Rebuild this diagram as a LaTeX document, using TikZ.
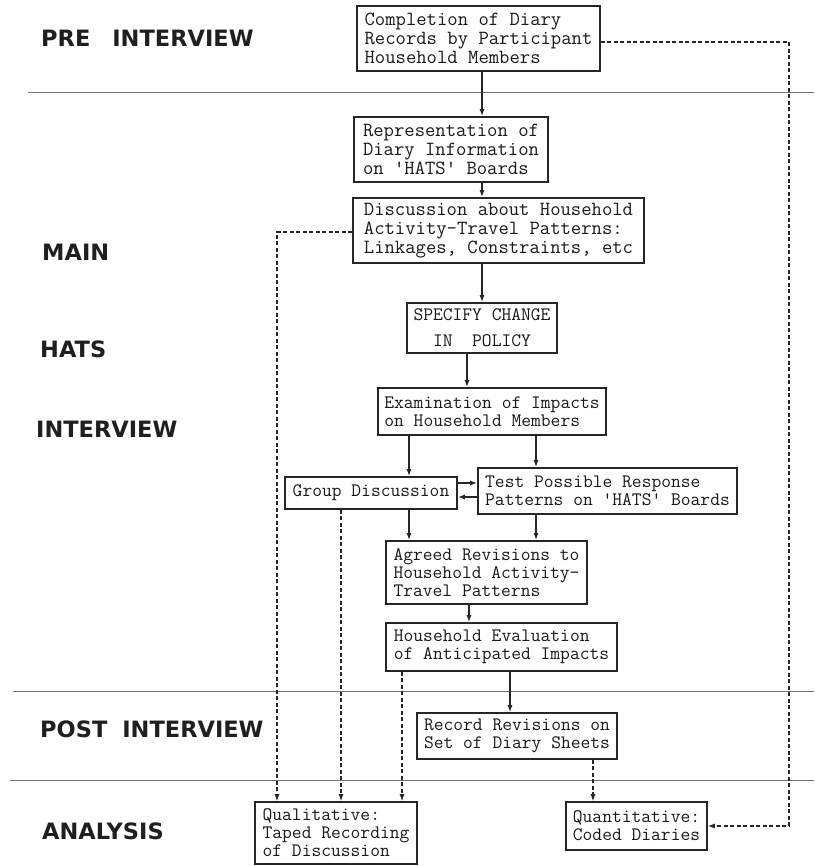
\documentclass[tikz,border=0pt]{standalone}
\usepackage{fontspec}
\newfontfamily\labfont{DejaVu Sans}
\usetikzlibrary{arrows.meta}
\begin{document}
\begin{tikzpicture}[x=1pt,y=-1pt,
 box/.style={draw=black!85, line width=1.6pt, font=\ttfamily\fontsize{19}{18}\selectfont, align=left, inner sep=0pt, text=black!90},
 bigbox/.style={box, font=\ttfamily\fontsize{20.1}{19}\selectfont},
 lab/.style={anchor=west, inner sep=0pt, font=\labfont\bfseries\fontsize{22.5}{24}\selectfont, text=black!88},
 arr/.style={draw=black!85, line width=1.3pt, -{Latex[length=7pt,width=5pt]}},
 darr/.style={draw=black!85, line width=1.1pt, dash pattern=on 4pt off 2.5pt, -{Latex[length=7pt,width=5pt]}},
 sep/.style={line width=0.9pt, draw=black!55}]
\fill[white] (0,0) rectangle (814,866);
\useasboundingbox (0,0) rectangle (814,866);

% separators
\draw[sep] (28,92) -- (814,92);
\draw[sep] (13,691) -- (814,691);
\draw[sep] (10,780) -- (814,780);

% labels
\node[lab] (lpre) at (41,38.5) {PRE\hspace{22pt}INTERVIEW};
\node[lab] (lmain) at (42,252) {MAIN};
\node[lab] (lhats) at (40,349) {HATS};
\node[lab] (linter) at (36,429) {INTERVIEW};
\node[lab] (lpost) at (40,729) {POST\hspace{15pt}INTERVIEW};
\node[lab] (lana) at (42,831) {ANALYSIS};

% boxes
\node[bigbox, minimum width=243pt, minimum height=65pt] (b1) at (478.5,38.5) {Completion of Diary\\Records by Participant\\Household Members};
\node[bigbox, minimum width=194pt, minimum height=65pt] (b2) at (451,149.5) {Representation of\\Diary Information\\on 'HATS' Boards};
\node[bigbox, minimum width=291pt, minimum height=65pt] (b3) at (498.5,230.5) {Discussion about Household\\Activity-Travel Patterns:\\Linkages, Constraints, etc};
\node[box, align=center, font=\ttfamily\fontsize{19}{26}\selectfont, minimum width=150pt, minimum height=50pt] (b4) at (482,328) {SPECIFY CHANGE\\IN\ \ POLICY};
\node[box, minimum width=228pt, minimum height=47pt] (b5) at (492,411.5) {Examination of Impacts\\on Household Members};
\node[box, minimum width=172pt, minimum height=32pt] (b6) at (371,493) {Group Discussion};
\node[box, minimum width=259pt, minimum height=46pt] (b7) at (607.5,491) {Test Possible Response\\Patterns on 'HATS' Boards};
\node[box, minimum width=201pt, minimum height=63pt] (b8) at (486.5,572.5) {Agreed Revisions to\\Household Activity-\\Travel Patterns};
\node[box, minimum width=231pt, minimum height=48pt] (b9) at (501.5,647) {Household Evaluation\\of Anticipated Impacts};
\node[box, minimum width=200pt, minimum height=46pt] (b10) at (517,736) {Record Revisions on\\Set of Diary Sheets};
\node[box, minimum width=162pt, minimum height=62pt] (b11) at (336,833) {Qualitative:\\Taped Recording\\of Discussion};
\node[box, minimum width=141pt, minimum height=48pt] (b12) at (636.5,826) {Quantitative:\\Coded Diaries};

% helper coordinates
\coordinate (x482) at (482,0);
\coordinate (x467) at (467,0);
\coordinate (x409) at (409,0);
\coordinate (x536) at (536,0);
\coordinate (x469) at (469,0);
\coordinate (x510) at (510,0);
\coordinate (x593) at (593,0);
\coordinate (x341) at (341,0);
\coordinate (x402) at (402,0);
\coordinate (y483) at (0,483);
\coordinate (y497) at (0,497);
\coordinate (tr) at (789,42);
\coordinate (tl) at (277,232);

% solid connectors
\draw[arr] (b1.south -| x482) -- (b2.north -| x482);
\draw[arr] (b2.south -| x482) -- (b3.north -| x482);
\draw[arr] (b3.south -| x482) -- (b4.north -| x482);
\draw[arr] (b4.south -| x467) -- (b5.north -| x467);
\draw[arr] (b5.south -| x409) -- (b6.north -| x409);
\draw[arr] (b5.south -| x536) -- (b7.north -| x536);
\draw[arr] (b6.east |- y483) -- (b7.west |- y483);
\draw[arr] (b7.west |- y497) -- (b6.east |- y497);
\draw[arr] (b6.south -| x409) -- (b8.north -| x409);
\draw[arr] (b7.south -| x536) -- (b8.north -| x536);
\draw[arr] (b8.south -| x469) -- (b9.north -| x469);
\draw[arr] (b9.south -| x510) -- (b10.north -| x510);

% dashed connectors
\draw[darr] (b10.south -| x593) -- (b12.north -| x593);
\draw[darr] (b1.east |- tr) -- (tr) |- (b12.east);
\draw[darr] (b3.west |- tl) -- (tl) -- (tl |- b11.north);
\draw[darr] (b6.south -| x341) -- (b11.north -| x341);
\draw[darr] (b9.south -| x402) -- (b11.north -| x402);
\end{tikzpicture}
\end{document}
